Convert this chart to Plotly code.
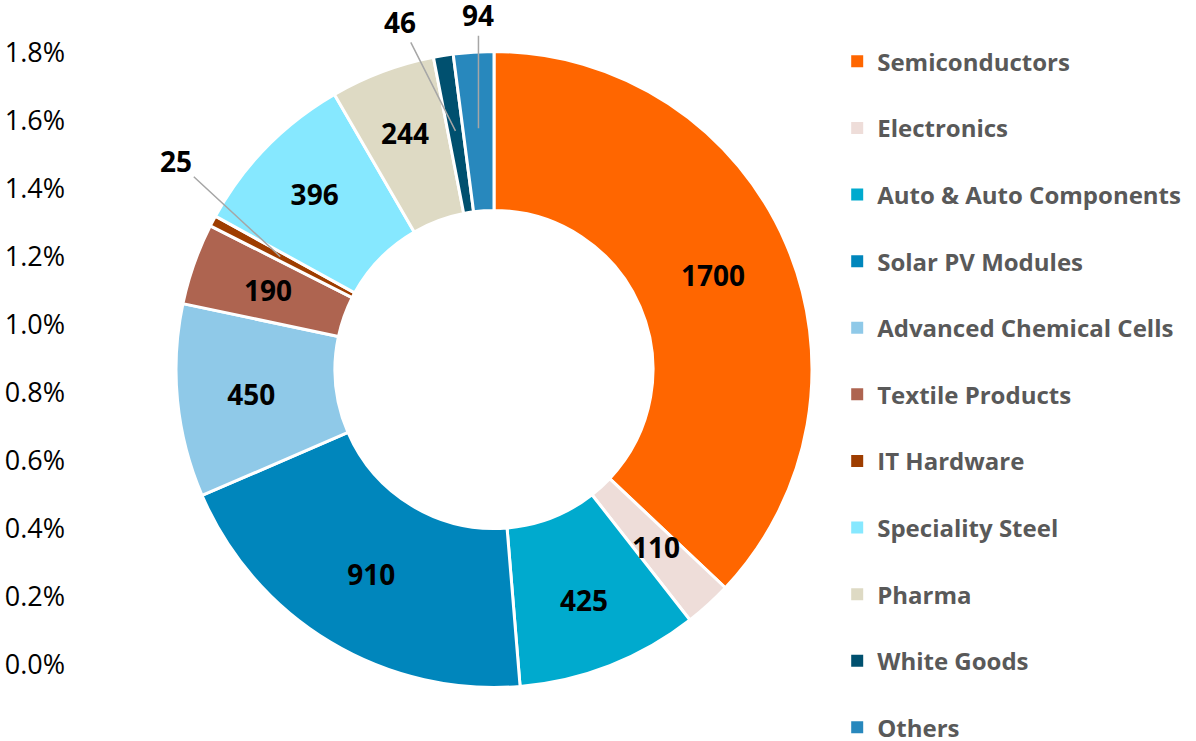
import math
import plotly.graph_objects as go

# ---------------- data ----------------
categories = ["Semiconductors", "Electronics", "Auto & Auto Components", "Solar PV Modules",
              "Advanced Chemical Cells", "Textile Products", "IT Hardware", "Speciality Steel",
              "Pharma", "White Goods", "Others"]
values = [1700, 110, 425, 910, 450, 190, 25, 396, 244, 46, 94]
colors = ["#FF6600", "#EEDDD9", "#00AACE", "#0086BC", "#8FC9E8", "#AE6450",
          "#9E3D00", "#86E8FF", "#DEDAC4", "#00506F", "#2888BD"]
axis_ticks = [0.0, 0.2, 0.4, 0.6, 0.8, 1.0, 1.2, 1.4, 1.6, 1.8]
outside_labels = ["IT Hardware", "White Goods", "Others"]

# ---------------- layout constants ----------------
W, H = 1196, 741
CX, CY, R = 494, 369.5, 318          # pie centre / radius in px
HOLE = 0.5
FONT = "Open Sans"
LABEL_OFFSETS = {"IT Hardware": (-104, -96), "White Goods": (-55, -109), "Others": (0, -113)}
# labels placed by hand-position rule (radius fraction) where they overflow their slice
FREE_LABEL_R = {"Electronics": 0.755, "Textile Products": 0.755, "Pharma": 0.795}

dom_x = [(CX - R) / W, (CX + R) / W]
dom_y = [(H - CY - R) / H, (H - CY + R) / H]

textpos = ["none" if (c in outside_labels or c in FREE_LABEL_R) else "inside" for c in categories]
label_font = dict(family=FONT, size=28, color="black", weight="bold")

fig = go.Figure()
fig.add_trace(go.Pie(
    labels=categories, values=values, sort=False, direction="clockwise", rotation=0,
    hole=HOLE, domain=dict(x=dom_x, y=dom_y),
    marker=dict(colors=colors, line=dict(color="white", width=3)),
    texttemplate="%{value}", textposition=textpos, insidetextorientation="horizontal",
    textfont=label_font,
    showlegend=False, hoverinfo="label+value",
))

# legend entries (one group each so spacing can be controlled)
for c, col in zip(categories, colors):
    fig.add_trace(go.Scatter(
        x=[None], y=[None], mode="markers", name=c, legendgroup=c,
        marker=dict(symbol="square", size=12, color=col),
        showlegend=True, hoverinfo="skip",
    ))

# labels anchored at each slice's mid-angle
total = sum(values)
cum = 0
annotations = []
for c, v in zip(categories, values):
    mid = (cum + v / 2) / total * 2 * math.pi
    cum += v
    if c in outside_labels:
        r = 0.76 * R
        px = CX + r * math.sin(mid)
        py = CY - r * math.cos(mid)
        ax, ay = LABEL_OFFSETS[c]
        annotations.append(dict(
            x=px / W, y=(H - py) / H, xref="paper", yref="paper",
            text=str(v), showarrow=True, arrowhead=0, arrowwidth=1.5, arrowcolor="#A6A6A6",
            ax=ax, ay=ay, font=label_font,
        ))
    elif c in FREE_LABEL_R:
        r = FREE_LABEL_R[c] * R
        px = CX + r * math.sin(mid)
        py = CY - r * math.cos(mid)
        annotations.append(dict(
            x=px / W, y=(H - py) / H, xref="paper", yref="paper",
            text=str(v), showarrow=False, xanchor="center", yanchor="middle", font=label_font,
        ))

fig.update_layout(
    width=W, height=H,
    margin=dict(l=0, r=0, t=0, b=0, autoexpand=False),
    paper_bgcolor="white", plot_bgcolor="rgba(0,0,0,0)",
    uniformtext=dict(minsize=28, mode="show"),
    xaxis=dict(domain=[0.0552, 0.1], range=[0, 1], visible=False, fixedrange=True, automargin=False),
    yaxis=dict(domain=[(H - 665) / H, (H - 53) / H], range=[0, 1.8], automargin=False,
               tickvals=axis_ticks, ticktext=[f"{t:.1f}%" for t in axis_ticks],
               tickfont=dict(family=FONT, size=27, color="black"),
               showgrid=False, zeroline=False, showline=False, ticks="", fixedrange=True),
    legend=dict(x=0.7, y=0.947, xanchor="left", yanchor="top",
                traceorder="grouped", tracegroupgap=32.4, maxheight=900,
                font=dict(family=FONT, size=24, color="#595959", weight="bold"),
                bgcolor="rgba(0,0,0,0)"),
    annotations=annotations,
    font=dict(family=FONT),
)

fig.write_html("out.html", config={"displayModeBar": False},
               post_script="document.body.style.margin='0';document.body.style.overflow='hidden';")
